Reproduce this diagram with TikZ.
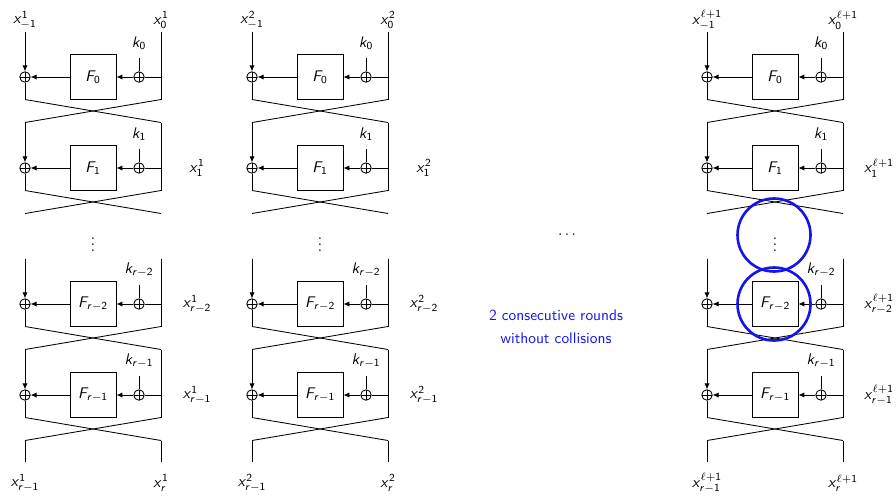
\documentclass[tikz,border=0pt]{standalone}
\usetikzlibrary{arrows.meta}
\DeclareMathAlphabet{\mathsfit}{OT1}{cmss}{m}{sl}
\DeclareMathAlphabet{\msf}{OT1}{cmss}{m}{n}
\definecolor{cblue}{RGB}{20,20,235}
\tikzset{
  wire/.style={line width=0.55pt},
  arr/.style={wire,-{Latex[length=3.8pt,width=3.4pt]}},
  xo/.style={circle,draw,line width=0.55pt,inner sep=0pt,minimum size=6.8pt,
    path picture={\draw[line width=0.55pt] (path picture bounding box.north) -- (path picture bounding box.south)
      (path picture bounding box.west) -- (path picture bounding box.east);}},
  fbox/.style={draw,line width=0.55pt,inner sep=0pt,minimum width=29.9pt,minimum height=29.2pt},
  lbl/.style={inner sep=0pt},
  ring/.style={draw=cblue,line width=1.7pt},
}
% #1 prefix, #2 dx, #3 xor y, #4 subscript, #5 right label
\newcommand\FRound[5]{%
  \coordinate (#1tl) at (25+#2,#3-45.5);
  \coordinate (#1tr) at (161+#2,#3-45.5);
  \node[xo] (#1xl) at (25+#2,#3) {};
  \node[xo] (#1xk) at (139+#2,#3) {};
  \node[fbox] (#1F) at (93+#2,#3) {$\mathsfit{F}_{#4}$};
  \coordinate (#1kt) at (139+#2,#3-19);
  \node[lbl] (#1k) at (139+#2,#3-34) {$\mathsfit{k}_{#4}$};
  \coordinate (#1j) at (161+#2,#3);
  \coordinate (#1bl) at (25+#2,#3+22.5);
  \coordinate (#1br) at (161+#2,#3+22.5);
  \coordinate (#1cl) at (25+#2,#3+45.5);
  \coordinate (#1cr) at (161+#2,#3+45.5);
  \node[lbl] (#1x) at (197+#2,#3) {#5};
  \draw[arr] (#1tl) -- (#1xl);
  \draw[wire] (#1xl) -- (#1bl);
  \draw[wire] (#1tr) -- (#1br);
  \draw[wire] (#1j) -- (#1xk);
  \draw[arr] (#1xk) -- (#1F);
  \draw[arr] (#1F) -- (#1xl);
  \draw[wire] (#1kt) -- (#1xk);
  \draw[wire] (#1bl) -- (#1cr);
  \draw[wire] (#1br) -- (#1cl);
}
% #1 prefix, #2 dx, #3 superscript
\newcommand\FCol[3]{%
  \node[lbl] (#1tx) at (25+#2,20) {$\mathsfit{x}^{#3}_{-\msf{1}}$};
  \node[lbl] (#1ty) at (161+#2,20) {$\mathsfit{x}^{#3}_{\msf{0}}$};
  \FRound{#1a}{#2}{77}{\msf{0}}{}
  \FRound{#1b}{#2}{168}{\msf{1}}{$\mathsfit{x}^{#3}_{\msf{1}}$}
  \node[lbl] (#1dots) at (93+#2,240) {$\vdots$};
  \FRound{#1c}{#2}{304}{\mathsfit{r}-\msf{2}}{$\mathsfit{x}^{#3}_{\mathsfit{r}-\msf{2}}$}
  \FRound{#1d}{#2}{395}{\mathsfit{r}-\msf{1}}{$\mathsfit{x}^{#3}_{\mathsfit{r}-\msf{1}}$}
  \coordinate (#1el) at (25+#2,462);
  \coordinate (#1er) at (161+#2,462);
  \draw[wire] (#1dcl) -- (#1el);
  \draw[wire] (#1dcr) -- (#1er);
  \node[lbl] (#1bx) at (25+#2,483) {$\mathsfit{x}^{#3}_{\mathsfit{r}-\msf{1}}$};
  \node[lbl] (#1by) at (161+#2,483) {$\mathsfit{x}^{#3}_{\mathsfit{r}}$};
}
\begin{document}
\begin{tikzpicture}[x=0.649pt,y=-0.649pt]
\useasboundingbox (0,0) rectangle (896,495);
\FCol{p}{0}{\msf{1}}
\FCol{q}{227}{\msf{2}}
\FCol{s}{682}{\ell+\msf{1}}
\node[lbl] (hdots) at (567,235) {$\cdots$};
\node[lbl,text=cblue,align=center,font=\sffamily\fontsize{10pt}{14.9pt}\selectfont] (note) at (556,327)
  {2 consecutive rounds\\without collisions};
\draw[ring] (774,235) circle (36.5);
\draw[ring] (774,304) circle (36.5);
\end{tikzpicture}
\end{document}
